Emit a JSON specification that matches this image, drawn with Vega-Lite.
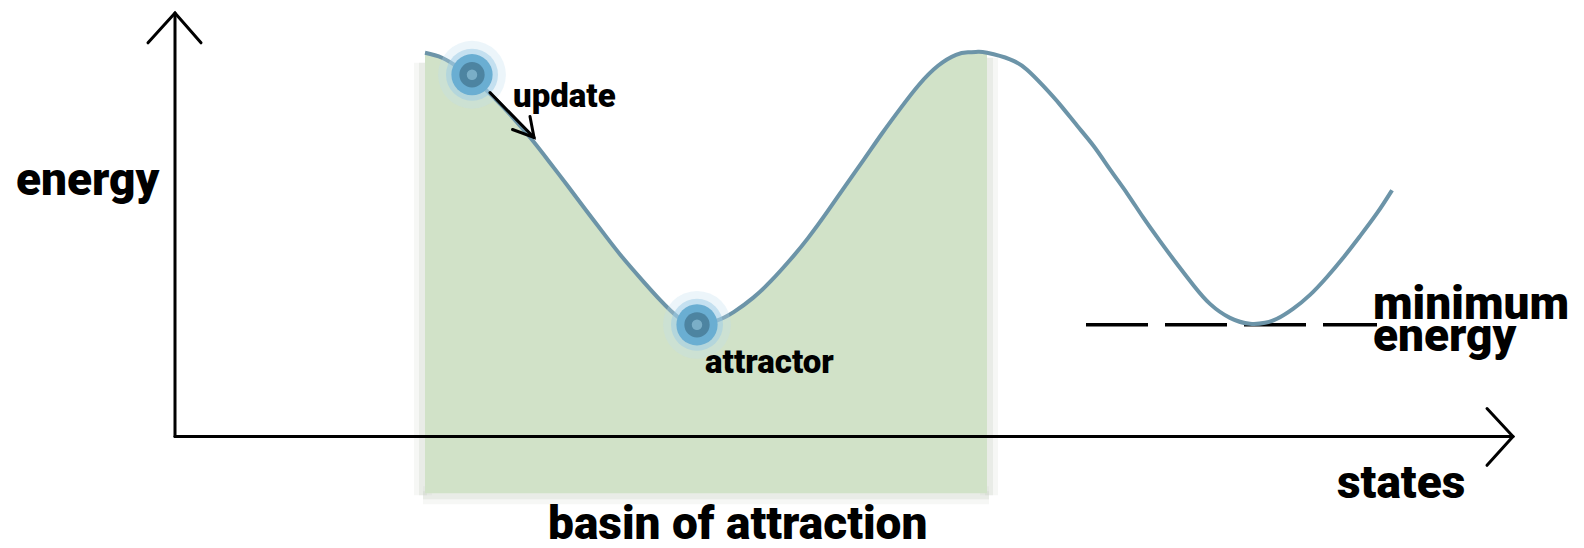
{
  "$schema": "https://vega.github.io/schema/vega-lite/v6.json",
  "width": 1584,
  "height": 548,
  "padding": 0,
  "autosize": {"type": "fit", "contains": "padding"},
  "background": "white",
  "config": {"view": {"stroke": null}},
  "datasets": {
    "curve": [
      {"state": 2.50, "energy": 3.85},
      {"state": 2.67, "energy": 3.80},
      {"state": 2.85, "energy": 3.69},
      {"state": 3.03, "energy": 3.55},
      {"state": 3.19, "energy": 3.40},
      {"state": 3.37, "energy": 3.21},
      {"state": 3.56, "energy": 2.99},
      {"state": 3.74, "energy": 2.76},
      {"state": 3.93, "energy": 2.51},
      {"state": 4.11, "energy": 2.27},
      {"state": 4.30, "energy": 2.02},
      {"state": 4.48, "energy": 1.79},
      {"state": 4.67, "energy": 1.57},
      {"state": 4.85, "energy": 1.37},
      {"state": 5.04, "energy": 1.19},
      {"state": 5.21, "energy": 1.13},
      {"state": 5.41, "energy": 1.16},
      {"state": 5.59, "energy": 1.25},
      {"state": 5.78, "energy": 1.39},
      {"state": 5.96, "energy": 1.56},
      {"state": 6.15, "energy": 1.77},
      {"state": 6.33, "energy": 1.99},
      {"state": 6.52, "energy": 2.25},
      {"state": 6.70, "energy": 2.51},
      {"state": 6.89, "energy": 2.78},
      {"state": 7.07, "energy": 3.04},
      {"state": 7.26, "energy": 3.30},
      {"state": 7.44, "energy": 3.53},
      {"state": 7.63, "energy": 3.72},
      {"state": 7.81, "energy": 3.83},
      {"state": 7.93, "energy": 3.855},
      {"state": 8.03, "energy": 3.86},
      {"state": 8.12, "energy": 3.85},
      {"state": 8.35, "energy": 3.785},
      {"state": 8.52, "energy": 3.68},
      {"state": 8.68, "energy": 3.52},
      {"state": 8.85, "energy": 3.33},
      {"state": 9.02, "energy": 3.12},
      {"state": 9.19, "energy": 2.91},
      {"state": 9.35, "energy": 2.68},
      {"state": 9.52, "energy": 2.44},
      {"state": 9.68, "energy": 2.20},
      {"state": 9.85, "energy": 1.96},
      {"state": 10.02, "energy": 1.73},
      {"state": 10.19, "energy": 1.51},
      {"state": 10.35, "energy": 1.33},
      {"state": 10.55, "energy": 1.19},
      {"state": 10.75, "energy": 1.13},
      {"state": 10.90, "energy": 1.14},
      {"state": 11.02, "energy": 1.18},
      {"state": 11.18, "energy": 1.28},
      {"state": 11.35, "energy": 1.42},
      {"state": 11.52, "energy": 1.60},
      {"state": 11.68, "energy": 1.79},
      {"state": 11.85, "energy": 2.01},
      {"state": 12.02, "energy": 2.24},
      {"state": 12.17, "energy": 2.47}
    ],
    "shadow": [
      {"seg": "left", "ord": 0, "state": 2.48, "energy": 3.75},
      {"seg": "left", "ord": 1, "state": 2.48, "energy": -0.59},
      {"seg": "bottom", "ord": 0, "state": 2.48, "energy": -0.59},
      {"seg": "bottom", "ord": 1, "state": 8.14, "energy": -0.59},
      {"seg": "right", "ord": 0, "state": 8.14, "energy": -0.59},
      {"seg": "right", "ord": 1, "state": 8.14, "energy": 3.80}
    ],
    "strokes": [
      {"seg": "yaxis", "ord": 0, "state": 0, "energy": 0},
      {"seg": "yaxis", "ord": 1, "state": 0, "energy": 4.25},
      {"seg": "yhead", "ord": 0, "state": -0.27, "energy": 3.95},
      {"seg": "yhead", "ord": 1, "state": 0, "energy": 4.25},
      {"seg": "yhead", "ord": 2, "state": 0.26, "energy": 3.95},
      {"seg": "xaxis", "ord": 0, "state": 0, "energy": 0},
      {"seg": "xaxis", "ord": 1, "state": 13.38, "energy": 0},
      {"seg": "xhead", "ord": 0, "state": 13.12, "energy": 0.28},
      {"seg": "xhead", "ord": 1, "state": 13.38, "energy": 0},
      {"seg": "xhead", "ord": 2, "state": 13.12, "energy": -0.29},
      {"seg": "upd", "ord": 0, "state": 3.15, "energy": 3.45},
      {"seg": "upd", "ord": 1, "state": 3.59, "energy": 3.00},
      {"seg": "updhead", "ord": 0, "state": 3.375, "energy": 3.08},
      {"seg": "updhead", "ord": 1, "state": 3.59, "energy": 3.00},
      {"seg": "updhead", "ord": 2, "state": 3.55, "energy": 3.21}
    ],
    "balls": [
      {"ball": "update", "state": 2.97, "energy": 3.63},
      {"ball": "attractor", "state": 5.22, "energy": 1.12}
    ],
    "bigLabels": [
      {"label": "energy", "state": -1.59, "energy": 2.42},
      {"label": "states", "state": 11.62, "energy": -0.62},
      {"label": "basin of attraction", "state": 3.73, "energy": -1.03},
      {"label": "minimum", "state": 11.98, "energy": 1.18},
      {"label": "energy", "state": 11.98, "energy": 0.86}
    ],
    "smallLabels": [
      {"label": "update", "state": 3.38, "energy": 3.31},
      {"label": "attractor", "state": 5.30, "energy": 0.64}
    ]
  },
  "encoding": {
    "x": {"field": "state", "type": "quantitative", "scale": {"domain": [-1.75, 14.09], "nice": false, "zero": false}, "axis": null},
    "y": {"field": "energy", "type": "quantitative", "scale": {"domain": [-1.10, 4.38], "nice": false, "zero": false}, "axis": null}
  },
  "layer": [
    {
      "data": {"name": "shadow"},
      "mark": {"type": "line", "color": "#c3ccbf", "strokeWidth": 18, "opacity": 0.15, "strokeCap": "butt"},
      "encoding": {"detail": {"field": "seg"}, "order": {"field": "ord"}}
    },
    {
      "data": {"name": "shadow"},
      "mark": {"type": "line", "color": "#c3ccbf", "strokeWidth": 8, "opacity": 0.25, "strokeCap": "butt"},
      "encoding": {"detail": {"field": "seg"}, "order": {"field": "ord"}}
    },
    {
      "data": {"name": "curve"},
      "transform": [{"filter": "datum.state <= 8.13"}],
      "mark": {"type": "area", "color": "#d1e2c8", "interpolate": "natural"},
      "encoding": {"y2": {"datum": -0.57}}
    },
    {
      "data": {"name": "strokes"},
      "transform": [{"filter": "datum.seg == 'yaxis' || datum.seg == 'yhead' || datum.seg == 'xaxis' || datum.seg == 'xhead'"}],
      "mark": {"type": "line", "color": "#000000", "strokeWidth": 3, "strokeCap": "round", "strokeJoin": "miter"},
      "encoding": {"detail": {"field": "seg"}, "order": {"field": "ord"}}
    },
    {
      "data": {"values": [{"state": 9.11, "end": 12.02, "energy": 1.12}]},
      "mark": {"type": "rule", "color": "#000000", "strokeWidth": 3.5, "strokeDash": [62, 17]},
      "encoding": {"x2": {"field": "end"}}
    },
    {
      "data": {"name": "curve"},
      "mark": {"type": "line", "color": "#6c94a8", "strokeWidth": 4, "interpolate": "natural"}
    },
    {
      "data": {"name": "balls"},
      "mark": {"type": "point", "shape": "circle", "filled": true, "color": "#bfdff0", "opacity": 0.3, "size": 4600}
    },
    {
      "data": {"name": "balls"},
      "mark": {"type": "point", "shape": "circle", "filled": true, "color": "#9ccbe5", "opacity": 0.5, "size": 2700}
    },
    {
      "data": {"name": "balls"},
      "mark": {"type": "point", "shape": "circle", "filled": true, "color": "#6aaed2", "opacity": 1, "size": 1700}
    },
    {
      "data": {"name": "balls"},
      "mark": {"type": "point", "shape": "circle", "filled": true, "color": "#4d84a1", "opacity": 1, "size": 640, "dx": -3, "dy": 2}
    },
    {
      "data": {"name": "balls"},
      "mark": {"type": "point", "shape": "circle", "filled": true, "color": "#7fb2cb", "opacity": 0.9, "size": 110, "dx": 5, "dy": -2}
    },
    {
      "data": {"name": "strokes"},
      "transform": [{"filter": "datum.seg == 'upd' || datum.seg == 'updhead'"}],
      "mark": {"type": "line", "color": "#000000", "strokeWidth": 3, "strokeCap": "round", "strokeJoin": "miter"},
      "encoding": {"detail": {"field": "seg"}, "order": {"field": "ord"}}
    },
    {
      "data": {"name": "bigLabels"},
      "mark": {"type": "text", "font": "Roboto", "fontWeight": 900, "fontSize": 46, "align": "left", "baseline": "alphabetic", "color": "#000000"},
      "encoding": {"text": {"field": "label"}}
    },
    {
      "data": {"name": "smallLabels"},
      "mark": {"type": "text", "font": "Roboto", "fontWeight": 900, "fontSize": 33, "align": "left", "baseline": "alphabetic", "color": "#000000"},
      "encoding": {"text": {"field": "label"}}
    }
  ]
}
